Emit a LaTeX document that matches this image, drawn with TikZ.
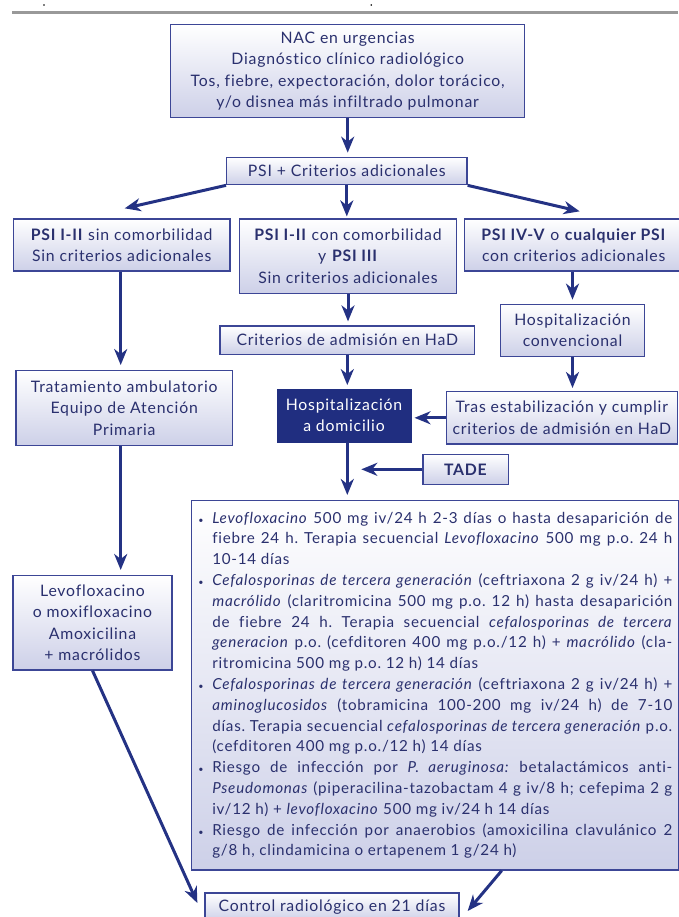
\documentclass[tikz,border=0pt]{standalone}
\usepackage{fontspec}
\setmainfont[LetterSpace=5,Ligatures=NoCommon]{Lato}
\usepackage{xcolor}
\usepackage{tikz}
\usetikzlibrary{arrows.meta}
\definecolor{navy}{RGB}{36,50,132}
\definecolor{boxframe}{RGB}{60,70,150}
\definecolor{ink}{RGB}{42,48,110}
\definecolor{lavender}{RGB}{205,208,232}
\definecolor{deepblue}{RGB}{32,46,128}
\newcommand{\itm}{\makebox[14pt][l]{\small\textbullet}}
\newcommand{\noitm}{\hspace*{14pt}}
\newcommand{\fullln}[1]{\makebox[460pt][s]{#1}}
\newcommand{\lastln}[1]{\makebox[460pt][l]{#1}}
\frenchspacing

\begin{document}
\begin{tikzpicture}[x=1pt,y=-1pt,
    font=\fontsize{15.8}{21.3}\selectfont,
    box/.style={draw=boxframe,line width=1.3pt,top color=white,bottom color=lavender,
      text=ink,align=center,inner sep=0pt},
    arr/.style={navy,line width=3pt,-{Stealth[length=16pt,width=13pt,inset=5pt]}}]
        \useasboundingbox (0,0) rectangle (678,917);
        \draw[black!40,line width=2.7pt] (12,12.7) -- (678,12.7);
        \fill (44,5) circle (0.9);
        \fill (371.3,5) circle (0.9);
        % boxes
        \node[box,minimum width=354pt,minimum height=93.4pt] (nac) at (347.7,71)
            {NAC en urgencias\\Diagnóstico clínico radiológico\\Tos, fiebre, expectoración, dolor torácico,\\y/o disnea más infiltrado pulmonar};
        \node[box,minimum width=240.3pt,minimum height=27.4pt] (psi) at (346.8,171) {PSI + Criterios adicionales};
        \node[box,minimum width=216.7pt,minimum height=52pt] (boxA) at (121.7,245)
            {\textbf{PSI I-II} sin comorbilidad\\Sin criterios adicionales};
        \node[box,minimum width=217.4pt,minimum height=74.3pt] (boxB) at (348,256.2)
            {\textbf{PSI I-II} con comorbilidad\\y \textbf{PSI III}\\Sin criterios adicionales};
        \node[box,minimum width=218pt,minimum height=52pt] (boxC) at (573.7,245)
            {\textbf{PSI IV-V} o \textbf{cualquier PSI}\\con criterios adicionales};
        \node[box,minimum width=254.7pt,minimum height=28.3pt] (had) at (347.3,340.2) {Criterios de admisión en HaD};
        \node[box,minimum width=144.4pt,minimum height=52.4pt] (conv) at (572.5,330.5) {Hospitalización\\convencional};
        \node[box,minimum width=216.3pt,minimum height=75pt] (amb) at (124.2,408.2)
            {Tratamiento ambulatorio\\Equipo de Atención\\Primaria};
        \node[draw=deepblue,fill=deepblue,text=white,align=center,minimum width=134.6pt,minimum height=52.4pt,inner sep=0pt] (dom) at (344,415.5)
            {Hospitalización\\a domicilio};
        \node[box,minimum width=231pt,minimum height=52.3pt] (tras) at (561.8,417.8)
            {Tras estabilización y cumplir\\criterios de admisión en HaD};
        \node[box,minimum width=85.7pt,minimum height=30pt] (tade) at (465.8,469.3) {\textbf{TADE}};
        \node[box,minimum width=487.3pt,minimum height=369.3pt,align=left,font=\fontsize{15.2}{20.8}\selectfont] (big) at (435.3,685.3)
            {\itm\fullln{\textit{Levofloxacino} 500 mg iv/24 h 2-3 días o hasta desaparición de}\\
             \noitm\fullln{fiebre 24 h. Terapia secuencial \textit{Levofloxacino} 500 mg p.o. 24 h}\\
             \noitm\lastln{10-14 días}\\
             \itm\fullln{\textit{Cefalosporinas de tercera generación} (ceftriaxona 2 g iv/24 h) +}\\
             \noitm\fullln{\textit{macrólido} (claritromicina 500 mg p.o. 12 h) hasta desaparición}\\
             \noitm\fullln{de fiebre 24 h. Terapia secuencial \textit{cefalosporinas de tercera}}\\
             \noitm\fullln{\textit{generacion} p.o. (cefditoren 400 mg p.o./12 h) + \textit{macrólido} (cla-}\\
             \noitm\lastln{ritromicina 500 mg p.o. 12 h) 14 días}\\
             \itm\fullln{\textit{Cefalosporinas de tercera generación} (ceftriaxona 2 g iv/24 h) +}\\
             \noitm\fullln{\textit{aminoglucosidos} (tobramicina 100-200 mg iv/24 h) de 7-10}\\
             \noitm\fullln{días. Terapia secuencial \textit{cefalosporinas de tercera generación} p.o.}\\
             \noitm\lastln{(cefditoren 400 mg p.o./12 h) 14 días}\\
             \itm\fullln{Riesgo de infección por \textit{P. aeruginosa:} betalactámicos anti-}\\
             \noitm\fullln{\textit{Pseudomonas} (piperacilina-tazobactam 4 g iv/8 h; cefepima 2 g}\\
             \noitm\lastln{iv/12 h) + \textit{levofloxacino} 500 mg iv/24 h 14 días}\\
             \itm\fullln{Riesgo de infección por anaerobios (amoxicilina clavulánico 2}\\
             \noitm\lastln{g/8 h, clindamicina o ertapenem 1 g/24 h)}};
        \node[box,minimum width=159pt,minimum height=94.3pt] (levo) at (92.5,622.8)
            {Levofloxacino\\o moxifloxacino\\Amoxicilina\\+ macrólidos};
        \node[box,minimum width=254pt,minimum height=28pt] (ctrl) at (332,907) {Control radiológico en 21 días};
        % arrows
        \draw[arr,shorten >=4pt] (nac.south) -- (nac.south |- psi.north);
        \draw[arr] (psi.south west) -- ([xshift=3pt,yshift=10pt]boxA.north);
        \draw[arr,shorten >=2pt] (psi.south) -- (psi.south |- boxB.north);
        \draw[arr] (psi.south east) -- ([xshift=6pt,yshift=7pt]boxC.north);
        \draw[arr,shorten >=5pt] ([xshift=-1pt]boxA.south) -- ([xshift=-1pt]boxA.south |- amb.north);
        \draw[arr,shorten >=4pt] (boxB.south) -- (boxB.south |- had.north);
        \draw[arr,shorten >=4pt] (boxC.south -| conv.north) -- (conv.north);
        \draw[arr,shorten >=4pt] (had.south) -- (had.south |- dom.north);
        \draw[arr,shorten >=3pt] (conv.south) -- (conv.south |- tras.north);
        \draw[arr,shorten >=3pt] (tras.west) -- (tras.west -| dom.east);
        \draw[arr,shorten >=5pt] (had.south |- dom.south) -- (had.south |- big.north);
        \draw[arr] (tade.west) -- ([xshift=14pt]had.south |- tade.west);
        \draw[arr,shorten >=5pt] ([xshift=-3.5pt]amb.south) -- ([xshift=-3.5pt]amb.south |- levo.north);
        \draw[arr] (levo.south) -- ([xshift=-7pt,yshift=4pt]ctrl.west);
        \draw[arr] ([xshift=66.4pt]big.south) -- ([xshift=8pt,yshift=-4pt]ctrl.east);
\end{tikzpicture}
\end{document}
